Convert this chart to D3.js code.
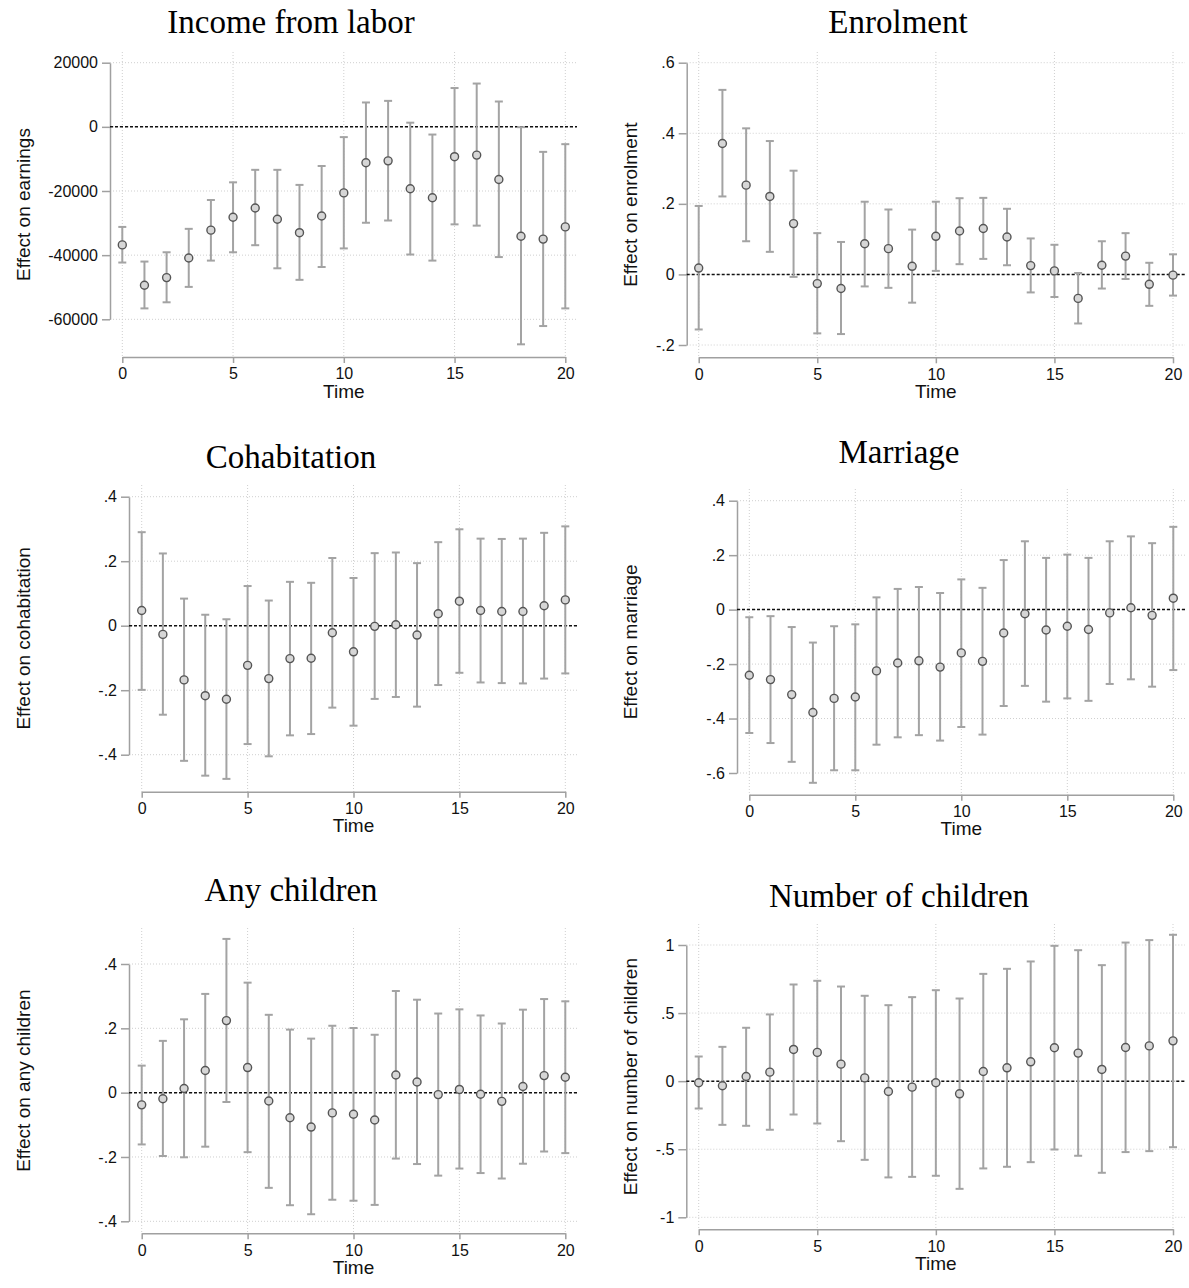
<!DOCTYPE html>
<html>
<head>
<meta charset="utf-8">
<script src="https://cdn.jsdelivr.net/npm/d3@7"></script>
<style>
  body { margin: 0; background: #fff; }
  svg { display: block; }
</style>
</head>
<body>
<svg id="chart" width="1189" height="1288"></svg>
<script>
// event time
const time = [0, 1, 2, 3, 4, 5, 6, 7, 8, 9, 10, 11, 12, 13, 14, 15, 16, 17, 18, 19, 20];
const xTicks = [0, 5, 10, 15, 20];

// Income from labor
const earnEst = [-36800, -49400, -47000, -40900, -32200, -28200, -25300, -28800, -33000, -27800, -20600, -11200, -10600, -19300, -22100, -9300, -8800, -16400, -34100, -35000, -31200];
const earnLo = [-42300, -56600, -54700, -49900, -41700, -39100, -36900, -44100, -47700, -43700, -37900, -29900, -29200, -39800, -41700, -30400, -30800, -40600, -67800, -62100, -56600];
const earnHi = [-31200, -42000, -39100, -31800, -22800, -17300, -13400, -13400, -18100, -12200, -3200, 7600, 8100, 1300, -2400, 12100, 13500, 7900, -100, -7800, -5400];
const earnTicks = [-60000, -40000, -20000, 0, 20000];

// Enrolment
const enrolEst = [0.018, 0.371, 0.253, 0.221, 0.144, -0.026, -0.040, 0.087, 0.073, 0.023, 0.108, 0.123, 0.130, 0.106, 0.025, 0.010, -0.068, 0.026, 0.052, -0.028, -0.002];
const enrolLo = [-0.156, 0.221, 0.094, 0.064, -0.007, -0.167, -0.169, -0.034, -0.038, -0.080, 0.010, 0.029, 0.044, 0.026, -0.051, -0.064, -0.139, -0.040, -0.013, -0.089, -0.060];
const enrolHi = [0.194, 0.523, 0.414, 0.378, 0.294, 0.117, 0.092, 0.206, 0.184, 0.127, 0.206, 0.216, 0.217, 0.186, 0.102, 0.084, 0.004, 0.094, 0.117, 0.033, 0.057];
const enrolTicks = [-0.2, 0, 0.2, 0.4, 0.6];

// Cohabitation
const cohabEst = [0.047, -0.027, -0.168, -0.217, -0.228, -0.123, -0.164, -0.102, -0.101, -0.022, -0.081, -0.002, 0.003, -0.029, 0.037, 0.076, 0.047, 0.044, 0.044, 0.062, 0.080];
const cohabLo = [-0.199, -0.276, -0.419, -0.465, -0.475, -0.367, -0.405, -0.340, -0.336, -0.254, -0.310, -0.227, -0.221, -0.251, -0.184, -0.146, -0.176, -0.178, -0.179, -0.164, -0.148];
const cohabHi = [0.290, 0.224, 0.084, 0.034, 0.020, 0.123, 0.078, 0.136, 0.133, 0.210, 0.148, 0.225, 0.227, 0.194, 0.259, 0.299, 0.270, 0.269, 0.270, 0.288, 0.308];
const cohabTicks = [-0.4, -0.2, 0, 0.2, 0.4];

// Marriage
const marrEst = [-0.241, -0.257, -0.312, -0.378, -0.326, -0.321, -0.225, -0.196, -0.188, -0.211, -0.159, -0.190, -0.086, -0.015, -0.075, -0.061, -0.073, -0.012, 0.007, -0.021, 0.042];
const marrLo = [-0.453, -0.490, -0.559, -0.636, -0.590, -0.590, -0.496, -0.469, -0.461, -0.481, -0.431, -0.459, -0.354, -0.280, -0.338, -0.326, -0.335, -0.273, -0.256, -0.283, -0.222];
const marrHi = [-0.028, -0.024, -0.064, -0.121, -0.061, -0.054, 0.045, 0.076, 0.083, 0.061, 0.111, 0.080, 0.182, 0.251, 0.190, 0.202, 0.190, 0.251, 0.269, 0.244, 0.304];
const marrTicks = [-0.6, -0.4, -0.2, 0, 0.2, 0.4];

// Any children
const anyEst = [-0.038, -0.019, 0.013, 0.069, 0.224, 0.078, -0.026, -0.078, -0.107, -0.063, -0.067, -0.085, 0.055, 0.033, -0.006, 0.010, -0.005, -0.027, 0.019, 0.053, 0.048];
const anyLo = [-0.161, -0.197, -0.201, -0.168, -0.029, -0.185, -0.296, -0.350, -0.378, -0.333, -0.336, -0.349, -0.205, -0.222, -0.258, -0.236, -0.250, -0.267, -0.221, -0.183, -0.188];
const anyHi = [0.084, 0.161, 0.228, 0.307, 0.478, 0.342, 0.242, 0.196, 0.168, 0.208, 0.201, 0.180, 0.316, 0.289, 0.246, 0.259, 0.240, 0.215, 0.258, 0.291, 0.284];
const anyTicks = [-0.4, -0.2, 0, 0.2, 0.4];

// Number of children
const numEst = [-0.012, -0.034, 0.034, 0.066, 0.233, 0.211, 0.125, 0.024, -0.076, -0.044, -0.012, -0.093, 0.071, 0.098, 0.142, 0.245, 0.206, 0.086, 0.247, 0.259, 0.296];
const numLo = [-0.201, -0.321, -0.328, -0.357, -0.245, -0.311, -0.441, -0.578, -0.707, -0.703, -0.695, -0.791, -0.641, -0.629, -0.595, -0.502, -0.548, -0.673, -0.521, -0.514, -0.485];
const numHi = [0.181, 0.252, 0.392, 0.490, 0.710, 0.737, 0.695, 0.627, 0.558, 0.617, 0.668, 0.607, 0.788, 0.825, 0.879, 0.994, 0.962, 0.852, 1.018, 1.036, 1.075];
const numTicks = [-1, -0.5, 0, 0.5, 1];

const titles = ['Income from labor', 'Enrolment', 'Cohabitation', 'Marriage', 'Any children', 'Number of children'];
const yLabels = ['Effect on earnings', 'Effect on enrolment', 'Effect on cohabitation', 'Effect on marriage', 'Effect on any children', 'Effect on number of children'];
const xLabel = 'Time';

const series = [
    { est: earnEst, lo: earnLo, hi: earnHi, ticks: earnTicks },
    { est: enrolEst, lo: enrolLo, hi: enrolHi, ticks: enrolTicks },
    { est: cohabEst, lo: cohabLo, hi: cohabHi, ticks: cohabTicks },
    { est: marrEst, lo: marrLo, hi: marrHi, ticks: marrTicks },
    { est: anyEst, lo: anyLo, hi: anyHi, ticks: anyTicks },
    { est: numEst, lo: numLo, hi: numHi, ticks: numTicks }
];

// pixel layout of each panel (axis positions, grid extent, title spots)
const layout = [
    { ax: 110,   right: 577,  top: 52,  base: 357,    x0: 122.3, x20: 565.3,  yb: 319.3,  yt: 62.7,  tx: 291, ty: 22,  lx: 23 },
    { ax: 686.7, right: 1185, top: 52,  base: 357.3,  x0: 698.7, x20: 1173,   yb: 345,    yt: 62.7,  tx: 898, ty: 22,  lx: 630 },
    { ax: 129,   right: 577,  top: 485, base: 791.7,  x0: 141.7, x20: 565.3,  yb: 754.7,  yt: 496.7, tx: 291, ty: 457, lx: 23 },
    { ax: 737,   right: 1185, top: 489, base: 794.7,  x0: 749.3, x20: 1173.3, yb: 773,    yt: 500.7, tx: 899, ty: 452, lx: 630 },
    { ax: 129,   right: 577,  top: 928, base: 1233.3, x0: 141.7, x20: 565.3,  yb: 1221.3, yt: 964,   tx: 291, ty: 890, lx: 23 },
    { ax: 686.3, right: 1185, top: 924, base: 1229.3, x0: 698.7, x20: 1173,   yb: 1217.3, yt: 945,   tx: 899, ty: 896, lx: 630 }
];

// Stata style numbers: .2, -.4, 0, 20000
const fmt = v => String(+v.toFixed(4)).replace(/^(-?)0\./, '$1.');

const svg = d3.select('#chart');
const sans = 'Liberation Sans, Arial, sans-serif';

series.forEach((s, i) => {
    const L = layout[i];
    const g = svg.append('g');

    const x = d3.scaleLinear().domain([0, 20]).range([L.x0, L.x20]);
    const y = d3.scaleLinear()
        .domain([s.ticks[0], s.ticks[s.ticks.length - 1]])
        .range([L.yb, L.yt]);

    // dotted grid
    g.append('g').selectAll('line')
        .data(s.ticks)
        .enter().append('line')
        .attr('x1', L.ax).attr('x2', L.right)
        .attr('y1', d => y(d)).attr('y2', d => y(d))
        .style('stroke', '#cfcfcf').style('stroke-width', 1).style('stroke-dasharray', '1,2');

    g.append('g').selectAll('line')
        .data(xTicks)
        .enter().append('line')
        .attr('x1', d => x(d)).attr('x2', d => x(d))
        .attr('y1', L.top).attr('y2', L.base)
        .style('stroke', '#cfcfcf').style('stroke-width', 1).style('stroke-dasharray', '1,2');

    // axes
    const yAxis = g.append('g')
        .attr('transform', `translate(${L.ax},0)`)
        .call(d3.axisLeft(y).tickValues(s.ticks).tickSize(8).tickSizeOuter(0).tickPadding(4).tickFormat(fmt));

    const xAxis = g.append('g')
        .attr('transform', `translate(0,${L.base})`)
        .call(d3.axisBottom(x).tickValues(xTicks).tickSize(6).tickSizeOuter(0).tickPadding(5).tickFormat(fmt));

    [yAxis, xAxis].forEach(a => {
        a.select('.domain').style('stroke', '#a0a0a0').style('stroke-width', 1.5);
        a.selectAll('.tick line').style('stroke', '#a0a0a0').style('stroke-width', 1.5);
        a.selectAll('.tick text').style('font-family', sans).style('font-size', '16px').style('fill', '#111');
    });

    // reference line at zero
    g.append('line')
        .attr('x1', L.ax).attr('x2', L.right)
        .attr('y1', y(0)).attr('y2', y(0))
        .style('stroke', '#111').style('stroke-width', 1.5).style('stroke-dasharray', '3,2');

    // confidence intervals
    const bars = g.append('g').selectAll('g')
        .data(time)
        .enter().append('g')
        .style('stroke', '#a3a3a3').style('stroke-width', 2);

    bars.append('line')
        .attr('x1', d => x(d)).attr('x2', d => x(d))
        .attr('y1', (d, j) => y(s.lo[j])).attr('y2', (d, j) => y(s.hi[j]));
    bars.append('line')
        .attr('x1', d => x(d) - 4).attr('x2', d => x(d) + 4)
        .attr('y1', (d, j) => y(s.lo[j])).attr('y2', (d, j) => y(s.lo[j]));
    bars.append('line')
        .attr('x1', d => x(d) - 4).attr('x2', d => x(d) + 4)
        .attr('y1', (d, j) => y(s.hi[j])).attr('y2', (d, j) => y(s.hi[j]));

    // point estimates
    g.append('g').selectAll('circle')
        .data(time)
        .enter().append('circle')
        .attr('cx', d => x(d))
        .attr('cy', (d, j) => y(s.est[j]))
        .attr('r', 4)
        .style('fill', '#d6d6d6')
        .style('stroke', '#555')
        .style('stroke-width', 1.4);

    // titles
    g.append('text')
        .attr('x', L.tx).attr('y', L.ty)
        .attr('text-anchor', 'middle').attr('dominant-baseline', 'central')
        .style('font-family', 'Liberation Serif, Times New Roman, serif')
        .style('font-size', '33px').style('fill', '#000')
        .text(titles[i]);

    g.append('text')
        .attr('transform', `translate(${L.lx},${(L.top + L.base) / 2}) rotate(-90)`)
        .attr('text-anchor', 'middle').attr('dominant-baseline', 'central')
        .style('font-family', sans).style('font-size', '19px').style('fill', '#111')
        .text(yLabels[i]);

    g.append('text')
        .attr('x', (L.x0 + L.x20) / 2).attr('y', L.base + 34)
        .attr('text-anchor', 'middle').attr('dominant-baseline', 'central')
        .style('font-family', sans).style('font-size', '19px').style('fill', '#111')
        .text(xLabel);
});
</script>
</body>
</html>
